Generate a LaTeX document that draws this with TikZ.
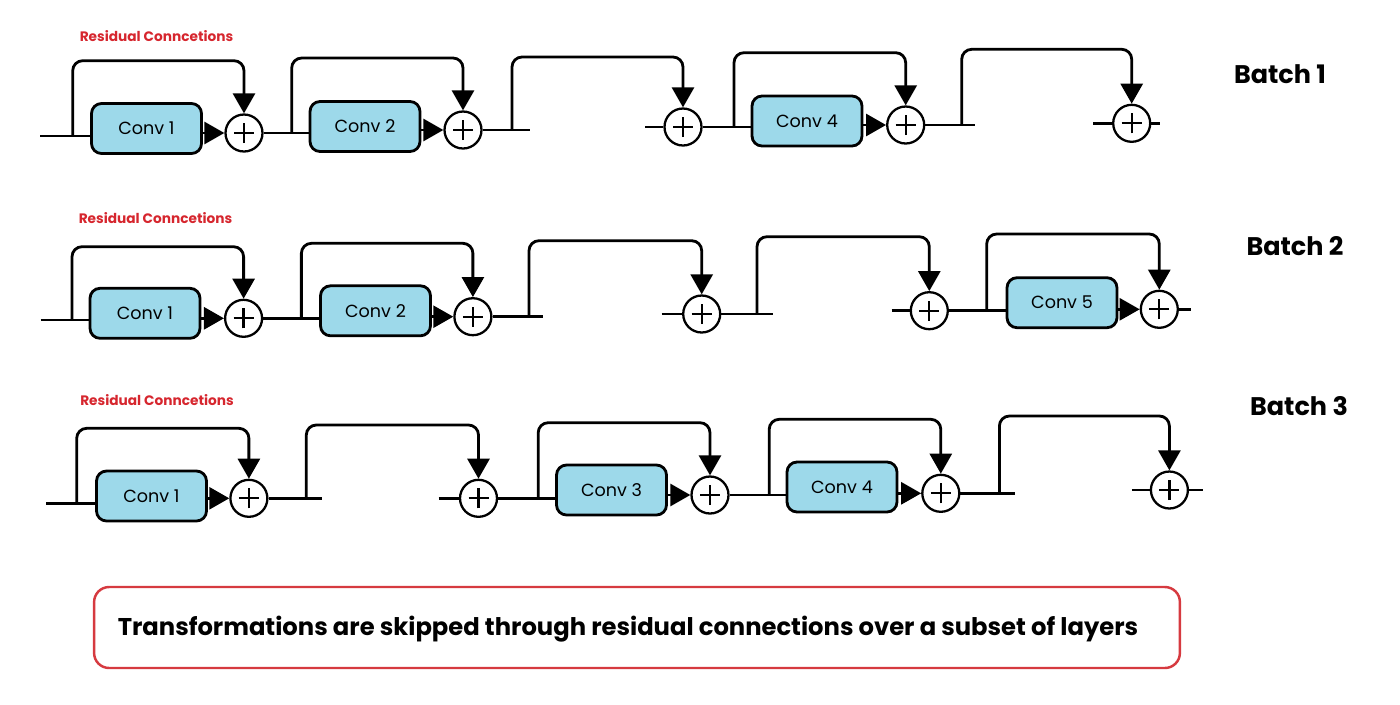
\documentclass[tikz,border=0pt]{standalone}
\usepackage{fontspec}
\setmainfont{Poppins}
\usetikzlibrary{arrows.meta}
\definecolor{convblue}{RGB}{157,217,234}
\definecolor{labelred}{RGB}{214,38,46}
\definecolor{framered}{RGB}{214,58,64}
\begin{document}
\begin{tikzpicture}[x=0.02cm,y=-0.02cm,
    link/.style={line width=1.6pt},
    feed/.style={link,-{Triangle[width=0.44cm,length=0.4cm]}},
    resid/.style={link,rounded corners=0.2cm,-{Triangle[width=0.44cm,length=0.4cm]}},
    convbox/.style={draw,line width=1.6pt,fill=convblue,rounded corners=0.2cm,minimum width=2.2cm,minimum height=1cm,inner sep=0pt,font=\fontsize{10}{12}\selectfont},
    adder/.style={draw,circle,line width=1.3pt,fill=white,minimum size=0.74cm,inner sep=0pt,
        path picture={\draw[line width=1.3pt](path picture bounding box.center)+(-0.2cm,0)--+(0.2cm,0)+(0,-0.2cm)--+(0,0.2cm);}},
    redlabel/.style={text=labelred,font=\bfseries\fontsize{7.8}{9}\selectfont},
    batchlabel/.style={font=\bfseries\fontsize{14.5}{16}\selectfont}]
    \useasboundingbox(0,0)rectangle(1400,704);
    % batch 1
    \node[redlabel](r1) at (156.5,36){Residual Conncetions};
    \node[batchlabel](n1) at (1280,74){Batch 1};
    \coordinate(in1) at (40,136);
    \node[convbox](c11) at (146.5,128.5){Conv 1};
    \node[adder](s11) at (244,133){};
    \node[convbox](c12) at (365,126.5){Conv 2};
    \node[adder](s12) at (463,130){};
    \coordinate(e12) at (530,130);
    \coordinate(f13) at (645,127);
    \node[adder](s13) at (683,127){};
    \node[convbox](c14) at (807,121){Conv 4};
    \node[adder](s14) at (905.7,125){};
    \coordinate(e14) at (975,125);
    \coordinate(f15) at (1093,123.3);
    \node[adder](s15) at (1131.7,123.3){};
    \coordinate(g15) at (1160,123.3);
    \coordinate(b11) at (72.7,136);
    \coordinate(b12) at (291.7,133);
    \coordinate(b13) at (512,130);
    \coordinate(b14) at (734,127);
    \coordinate(b15) at (961.7,125);
    \draw[link](in1)--(c11.west|-in1)(s11)--(c12.west|-s11)(s12)--(e12)(f13)--(s13)(s13)--(c14.west|-s13)(s14)--(e14)(f15)--(s15)--(g15);
    \draw[feed](c11.east|-s11)--(s11);
    \draw[feed](c12.east|-s12)--(s12);
    \draw[feed](c14.east|-s14)--(s14);
    \draw[resid](b11)--++(0,-75.3)-|(s11);
    \draw[resid](b12)--++(0,-75)-|(s12);
    \draw[resid](b13)--++(0,-73)-|(s13);
    \draw[resid](b14)--++(0,-74.3)-|(s14);
    \draw[resid](b15)--++(0,-75.7)-|(s15);
    % batch 2
    \node[redlabel](r2) at (155.5,218){Residual Conncetions};
    \node[batchlabel](n2) at (1295,246){Batch 2};
    \coordinate(in2) at (40.7,320);
    \node[convbox](c21) at (145,313.3){Conv 1};
    \node[adder](s21) at (243.6,318.3){};
    \node[convbox](c22) at (375.5,310.8){Conv 2};
    \node[adder](s22) at (472.9,316.7){};
    \coordinate(e22) at (543,316.7);
    \coordinate(f23) at (661.7,314);
    \node[adder](s23) at (701.7,314){};
    \coordinate(e23) at (773,314);
    \coordinate(f24) at (891.7,310.7);
    \node[adder](s24) at (929.3,310.7){};
    \node[convbox](c25) at (1062,302.7){Conv 5};
    \node[adder](s25) at (1159.3,309.3){};
    \coordinate(g25) at (1190.7,309.3);
    \coordinate(b21) at (72,320);
    \coordinate(b22) at (301.4,318.3);
    \coordinate(b23) at (529,316.7);
    \coordinate(b24) at (757,314);
    \coordinate(b25) at (986.7,310.7);
    \draw[link](in2)--(c21.west|-in2)(s21)--(c22.west|-s21)(s22)--(e22)(f23)--(s23)--(e23)(f24)--(s24)--(c25.west|-s24)(s25)--(g25);
    \draw[feed](c21.east|-s21)--(s21);
    \draw[feed](c22.east|-s22)--(s22);
    \draw[feed](c25.east|-s25)--(s25);
    \draw[resid](b21)--++(0,-73.3)-|(s21);
    \draw[resid](b22)--++(0,-75)-|(s22);
    \draw[resid](b23)--++(0,-76)-|(s23);
    \draw[resid](b24)--++(0,-77.3)-|(s24);
    \draw[resid](b25)--++(0,-76.7)-|(s25);
    % batch 3
    \node[redlabel](r3) at (157,400){Residual Conncetions};
    \node[batchlabel](n3) at (1299,406){Batch 3};
    \coordinate(in3) at (46,503.3);
    \node[convbox](c31) at (151.5,496){Conv 1};
    \node[adder](s31) at (248.9,498.3){};
    \coordinate(e31) at (321.6,498.3);
    \coordinate(f32) at (438.7,498.3);
    \node[adder](s32) at (478.5,498.3){};
    \node[convbox](c33) at (611.5,490){Conv 3};
    \node[adder](s33) at (710,495){};
    \node[convbox](c34) at (842,487){Conv 4};
    \node[adder](s34) at (940.8,493.3){};
    \coordinate(e34) at (1015.2,493.3);
    \coordinate(f35) at (1131.8,490);
    \node[adder](s35) at (1169.4,490){};
    \coordinate(g35) at (1203,490);
    \coordinate(b31) at (76.7,503.3);
    \coordinate(b32) at (306.3,498.3);
    \coordinate(b33) at (538.2,498.3);
    \coordinate(b34) at (769.2,495);
    \coordinate(b35) at (999.4,493.3);
    \draw[link](in3)--(c31.west|-in3)(s31)--(e31)(f32)--(s32)--(c33.west|-s32)(s33)--(c34.west|-s33)(s34)--(e34)(f35)--(s35)--(g35);
    \draw[feed](c31.east|-s31)--(s31);
    \draw[feed](c33.east|-s33)--(s33);
    \draw[feed](c34.east|-s34)--(s34);
    \draw[resid](b31)--++(0,-75)-|(s31);
    \draw[resid](b32)--++(0,-73.3)-|(s32);
    \draw[resid](b33)--++(0,-75.6)-|(s33);
    \draw[resid](b34)--++(0,-75.7)-|(s34);
    \draw[resid](b35)--++(0,-77.3)-|(s35);
    % note
    \node[draw=framered,line width=1.4pt,rounded corners=0.3cm,minimum width=21.72cm,minimum height=1.62cm](nb) at (637,627.5){};
    \node[font=\bfseries\fontsize{13.8}{16}\selectfont](nt) at (628,629){Transformations are skipped through residual connections over a subset of layers};
\end{tikzpicture}
\end{document}
